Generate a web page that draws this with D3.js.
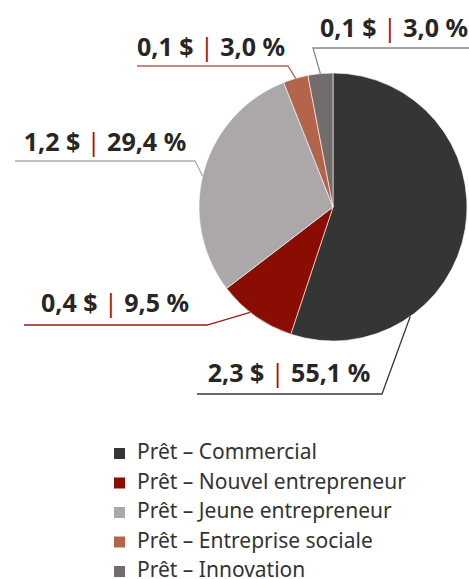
<!DOCTYPE html>
<html>
<head>
<meta charset="utf-8">
<script src="https://cdn.jsdelivr.net/npm/d3@7"></script>
<style>
  html, body { margin: 0; padding: 0; background: #fff; }
  svg { display: block; }
</style>
</head>
<body>
<svg id="chart" width="469" height="579"></svg>
<script>
// ---- Data ----
const categories = ["Prêt – Commercial", "Prêt – Nouvel entrepreneur", "Prêt – Jeune entrepreneur", "Prêt – Entreprise sociale", "Prêt – Innovation"];
const amounts = ["2,3", "0,4", "1,2", "0,1", "0,1"];        // milliards $
const percents = [55.1, 9.5, 29.4, 3.0, 3.0];
const colors = ["#363535", "#8a0d03", "#aca8a9", "#b5644c", "#726d6c"];
const lineColors = ["#3a3a3a", "#9a1a10", "#b0acad", "#b5644c", "#8a8584"];

// ---- Layout ----
const W = 469, H = 579;
const cx = 333, cy = 207, R = 134;
const labelLayout = [
  { tx: 289, ty: 382, ly: 394, x0: 197, x1: 382, f: 0.73 },
  { tx: 115, ty: 312, ly: 325, x0: 24,  x1: 207, f: 0.58 },
  { tx: 105, ty: 151, ly: 161, x0: 15,  x1: 195, f: 0.48 },
  { tx: 211, ty: 56,  ly: 66,  x0: 137, x1: 288, f: 0.5 },
  { tx: 394, ty: 37,  ly: 48,  x0: 469, x1: 313, f: 0.5 }
];

const svg = d3.select("#chart");
const fontFam = "'Noto Sans', 'Open Sans', sans-serif";

const pie = d3.pie().sort(null).value(d => d)(percents);
const arc = d3.arc().innerRadius(0).outerRadius(R);

const g = svg.append("g").attr("transform", `translate(${cx},${cy})`);
g.selectAll("path.slice")
  .data(pie)
  .join("path")
  .attr("class", "slice")
  .attr("d", arc)
  .attr("fill", (d, i) => colors[i])
  .attr("stroke", "#ffffff")
  .attr("stroke-width", 0.6);

pie.forEach((d, i) => {
  const L = labelLayout[i];
  const a = d.startAngle + (d.endAngle - d.startAngle) * L.f;
  const px = cx + R * Math.sin(a);
  const py = cy - R * Math.cos(a);
  svg.append("polyline")
    .attr("points", `${L.x0},${L.ly} ${L.x1},${L.ly} ${px},${py}`)
    .attr("fill", "none")
    .attr("stroke", lineColors[i])
    .attr("stroke-width", 1.3);

  const t = svg.append("text")
    .attr("x", L.tx)
    .attr("y", L.ty)
    .attr("text-anchor", "middle")
    .attr("font-family", fontFam)
    .attr("font-size", 25)
    .attr("font-weight", "bold")
    .attr("fill", "#262626");
  t.append("tspan").text(amounts[i] + " $ ");
  t.append("tspan").attr("fill", "#a5170c").attr("font-weight", "normal").text("|");
  t.append("tspan").text(" " + d3.format(".1f")(percents[i]).replace(".", ",") + " %");
});

const legend = svg.append("g").attr("transform", "translate(114,448)");
categories.forEach((c, i) => {
  const row = legend.append("g").attr("transform", `translate(0,${i * 29.5})`);
  row.append("rect").attr("x", 0).attr("y", 0).attr("width", 11).attr("height", 11).attr("fill", colors[i]);
  row.append("text")
    .attr("x", 23)
    .attr("y", 11)
    .attr("font-family", fontFam)
    .attr("font-size", 21)
    .attr("fill", "#333333")
    .text(c);
});
</script>
</body>
</html>
